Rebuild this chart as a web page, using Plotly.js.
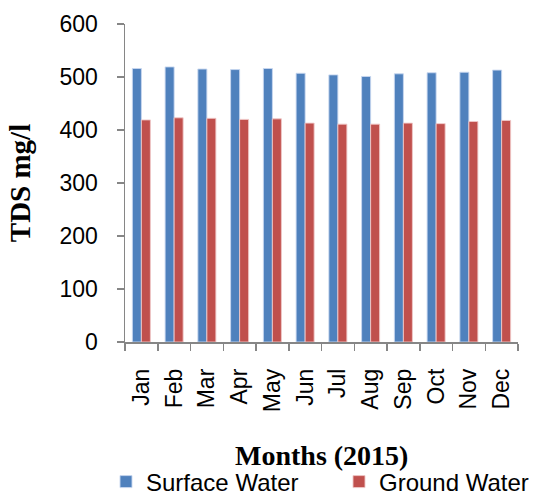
<!DOCTYPE html>
<html>
<head>
<meta charset="utf-8">
<script src="https://cdn.plot.ly/plotly-3.0.1.min.js"></script>
<style>html,body{margin:0;padding:0;background:#fff;}#chart{width:536px;height:496px;}</style>
</head>
<body>
<div id="chart"></div>
<script>
const months = ["Jan","Feb","Mar","Apr","May","Jun","Jul","Aug","Sep","Oct","Nov","Dec"];
const surfaceWater = [516, 519, 515, 514, 516, 507, 504, 501, 506, 508, 509, 513];
const groundWater = [419, 423, 422, 420, 421, 413, 411, 411, 413, 412, 416, 418];
const yTicks = [0, 100, 200, 300, 400, 500, 600];
const xTitle = "Months (2015)";
const yTitle = "TDS mg/l";

const traces = [
  {type:"bar", name:"Surface Water", x:months, y:surfaceWater, legend:"legend",
   marker:{color:"#4F81BD", line:{color:"rgba(200,215,240,0.9)", width:1}}},
  {type:"bar", name:"Ground Water", x:months, y:groundWater, legend:"legend2",
   marker:{color:"#C0504D", line:{color:"rgba(240,200,200,0.9)", width:1}}}
];

const legendFont = {family:"Liberation Sans", size:24, color:"#000"};
const layout = {
  width:536, height:496,
  margin:{l:125, r:18, t:24, b:154, pad:0},
  paper_bgcolor:"#fff", plot_bgcolor:"#fff",
  barmode:"group", bargap:0.45, bargroupgap:0,
  font:{family:"Liberation Sans", color:"#000"},
  xaxis:{
    type:"category", automargin:false,
    showline:true, linecolor:"#868686", linewidth:1.5,
    ticks:"outside", tickson:"boundaries", ticklen:7, tickcolor:"#868686", tickwidth:1.5,
    ticklabelstandoff:16,
    tickangle:-90, tickfont:{family:"Liberation Sans", size:23, color:"#000"},
    showgrid:false, zeroline:false
  },
  yaxis:{
    range:[0,600], tickvals:yTicks, ticktext:yTicks.map(String), automargin:false,
    showline:true, linecolor:"#868686", linewidth:1.5,
    ticks:"outside", ticklen:7, tickcolor:"#868686", tickwidth:1.5,
    ticklabelstandoff:14,
    tickfont:{family:"Liberation Sans", size:23, color:"#000"},
    showgrid:false, zeroline:false,
    title:{text:yTitle, font:{family:"Liberation Serif", size:29, color:"#000", weight:"bold"}, standoff:20}
  },
  annotations:[{text:xTitle, xref:"paper", yref:"paper", x:0.5, y:-113/318, xanchor:"center", yanchor:"middle",
    showarrow:false, font:{family:"Liberation Serif", size:28, color:"#000", weight:"bold"}}],
  legend:{orientation:"h", xref:"container", yref:"container", x:106/536, xanchor:"left", y:14/496, yanchor:"middle",
    font:legendFont, bgcolor:"rgba(0,0,0,0)"},
  legend2:{orientation:"h", xref:"container", yref:"container", x:339/536, xanchor:"left", y:14/496, yanchor:"middle",
    font:legendFont, bgcolor:"rgba(0,0,0,0)"},
  showlegend:true
};

Plotly.newPlot("chart", traces, layout, {displayModeBar:false, staticPlot:true});
</script>
</body>
</html>
